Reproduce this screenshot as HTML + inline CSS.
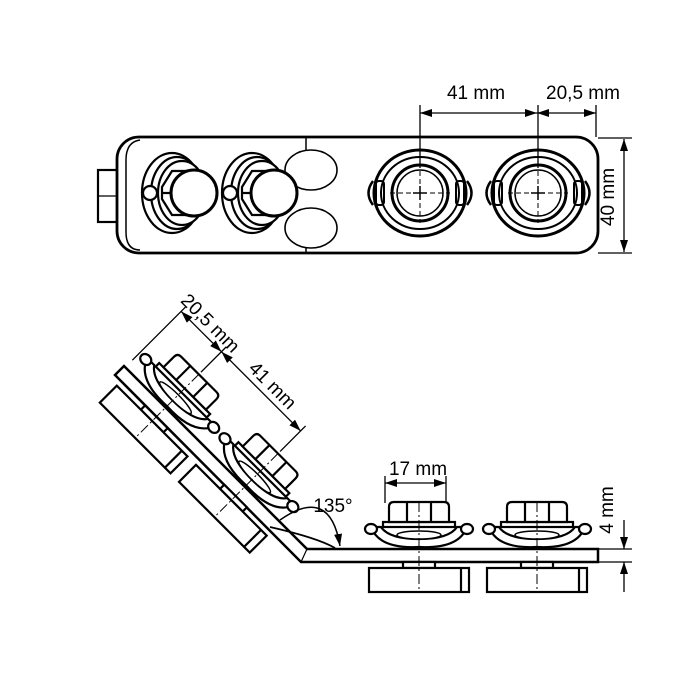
<!DOCTYPE html>
<html><head><meta charset="utf-8"><style>
html,body{margin:0;padding:0;background:#fff;}
svg{display:block}
text{font-family:"Liberation Sans",sans-serif;font-size:19px;fill:#000}
</style></head><body>
<svg width="700" height="700" viewBox="0 0 700 700" xmlns="http://www.w3.org/2000/svg">
<defs>
<marker id="ar" markerWidth="12" markerHeight="8" refX="12" refY="4" orient="auto" markerUnits="userSpaceOnUse">
<path d="M0,0 L12,4 L0,8 Z" fill="#000"/></marker>
<g id="clamp" fill="#fff" stroke="#000" stroke-width="2.2">
<path d="M-48,-22 Q-40,0 0,-2 Q40,0 48,-22 L38,-22 Q30,-10 0,-10 Q-30,-10 -38,-22 Z"/>
<ellipse cx="0" cy="-14" rx="22" ry="4" stroke-width="1.5"/>
<ellipse cx="-48" cy="-20" rx="6" ry="5"/>
<ellipse cx="48" cy="-20" rx="6" ry="5"/>
<rect x="-36" y="-27" width="72" height="5"/>
<path d="M-30,-27 L-30,-42 Q-30,-47 -25,-47 L25,-47 Q30,-47 30,-42 L30,-27 Z"/>
<path d="M-12,-47 V-27 M12,-47 V-27" fill="none"/>
<rect x="-16" y="13" width="32" height="6"/>
<rect x="-50" y="19" width="100" height="24"/>
<path d="M42,19 V43" fill="none"/>
<path d="M0,-47 V43" fill="none" stroke-width="1" stroke-dasharray="10,3,2,3"/>
</g>
<g id="rclamp" fill="none" stroke="#000">
<path d="M-47,-12 Q-56,0 -47,12 M47,-12 Q56,0 47,12" stroke-width="2.5"/>
<ellipse cx="0" cy="0" rx="46" ry="43" stroke-width="3" fill="#fff"/>
<ellipse cx="0" cy="0" rx="39" ry="36" stroke-width="2"/>
<rect x="-44" y="-12" width="8" height="24" rx="3" stroke-width="2"/>
<rect x="36" y="-12" width="8" height="24" rx="3" stroke-width="2"/>
<circle cx="0" cy="0" r="28" stroke-width="3"/>
<circle cx="0" cy="0" r="23" stroke-width="1.5"/>
<path d="M0,-30 V30 M-30,0 H30" stroke-width="1" stroke-dasharray="5,3"/>
<path d="M0,-7 V7 M-7,0 H7" stroke-width="1.5"/>
</g>
<g id="lclamp" fill="#fff" stroke="#000" stroke-width="2.2">
<ellipse cx="-8" cy="0" rx="30" ry="40"/>
<ellipse cx="-3" cy="0" rx="26" ry="36"/>
<ellipse cx="2" cy="0" rx="24" ry="32"/>
<circle cx="-30" cy="0" r="7"/>
<path d="M-18,-6 L-8,-22 L14,-22 L14,22 L-8,22 L-18,6 Z"/>
<path d="M-18,0 L-4,0 L8,-14 M-4,0 L8,14" fill="none"/>
<circle cx="14" cy="0" r="23" stroke-width="3"/>
</g>
</defs>

<!-- TOP VIEW -->
<g fill="none" stroke="#000">
<rect x="98" y="170" width="20" height="52" fill="#fff" stroke-width="2.2"/>
<path d="M98,196 H117" stroke-width="1.2"/>
<rect x="117" y="137" width="481" height="116" rx="22" fill="#fff" stroke-width="2.8"/>
<path d="M140,140 Q126,142 126,160 V232 Q126,250 140,250" stroke-width="1.5"/>
<path d="M306,137 V150 M306,240 V253" stroke-width="1.5"/>
<ellipse cx="311" cy="170" rx="26" ry="20" fill="#fff" stroke-width="1.6"/>
<ellipse cx="311" cy="228" rx="26" ry="20" fill="#fff" stroke-width="1.6"/>
</g>
<use href="#lclamp" x="180" y="193"/>
<use href="#lclamp" x="260" y="193"/>
<use href="#rclamp" x="420" y="193"/>
<use href="#rclamp" x="538" y="193"/>
<g stroke="#000" stroke-width="1.3" fill="none">
<path d="M420,105 V168 M538,105 V168 M596,105 V137"/>
<path d="M478,113 H537" marker-end="url(#ar)"/>
<path d="M478,113 H420" marker-end="url(#ar)"/>
<path d="M566,113 H537" marker-end="url(#ar)"/>
<path d="M566,113 H596" marker-end="url(#ar)"/>
<path d="M598,138 H632 M598,253 H632"/>
<path d="M624,195 V139" marker-end="url(#ar)"/>
<path d="M624,195 V252" marker-end="url(#ar)"/>
</g>
<text x="476" y="99" text-anchor="middle">41 mm</text>
<text x="583" y="99" text-anchor="middle">20,5 mm</text>
<text transform="translate(614,197) rotate(-90)" text-anchor="middle">40 mm</text>

<!-- SIDE VIEW -->
<path d="M598,549 L307,549 L124,366 L115,375 L301,562 L598,562 Z" fill="#fff" stroke="#000" stroke-width="2.5"/>
<path d="M307,549 L301,562" stroke="#000" stroke-width="1.2"/>
<path d="M270,527 Q318,538 335,548" fill="none" stroke="#000" stroke-width="1.8"/>
<use href="#clamp" x="419" y="549"/>
<use href="#clamp" x="537" y="549"/>
<g transform="translate(307,549) rotate(45)">
<use href="#clamp" x="-88" y="0"/>
<use href="#clamp" x="-200" y="0"/>
<g stroke="#000" stroke-width="1.3" fill="none">
<path d="M-88,-50 V-86 M-200,-50 V-86 M-257,-10 V-86"/>
<path d="M-144,-79 H-88" marker-end="url(#ar)"/>
<path d="M-144,-79 H-200" marker-end="url(#ar)"/>
<path d="M-228,-79 H-200" marker-end="url(#ar)"/>
<path d="M-228,-79 H-257" marker-end="url(#ar)"/>
</g>
<text x="-140" y="-85" text-anchor="middle">41 mm</text>
<text x="-228" y="-85" text-anchor="middle">20,5 mm</text>
</g>
<g stroke="#000" stroke-width="1.3" fill="none">
<path d="M385,476 V503 M446,476 V503"/>
<path d="M415,483 H385" marker-end="url(#ar)"/>
<path d="M415,483 H446" marker-end="url(#ar)"/>
<path d="M598,549 H632 M598,562 H632"/>
<path d="M624,520 V549" marker-end="url(#ar)"/>
<path d="M624,592 V562" marker-end="url(#ar)"/>
<path d="M280,520 Q330,485 340,546" marker-end="url(#ar)" stroke-width="1.5"/>
</g>
<text x="418" y="475" text-anchor="middle">17 mm</text>
<text x="333" y="512" text-anchor="middle">135°</text>
<text transform="translate(613,510) rotate(-90)" text-anchor="middle">4 mm</text>
</svg>
</body></html>
